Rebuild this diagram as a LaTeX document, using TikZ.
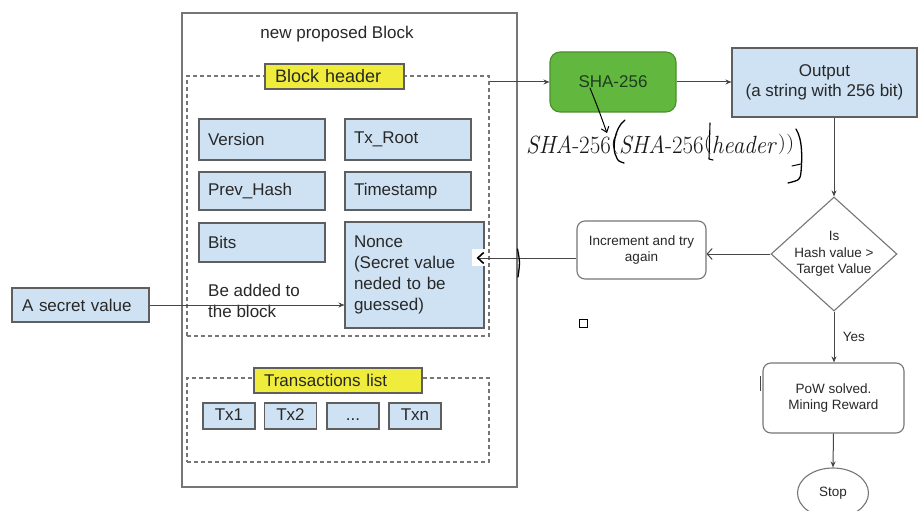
\documentclass[tikz,border=0pt]{standalone}
\usepackage[no-math]{fontspec}
\setmainfont{Liberation Sans}
\usetikzlibrary{shapes.geometric,arrows.meta,calc}
\definecolor{fieldblue}{RGB}{207,226,243}
\definecolor{fieldline}{RGB}{95,95,95}
\definecolor{tagyellow}{RGB}{240,236,60}
\definecolor{shagreen}{RGB}{98,184,62}
\definecolor{shaline}{RGB}{76,142,46}
\definecolor{shatext}{RGB}{30,60,30}
\definecolor{frameline}{RGB}{118,118,118}
\definecolor{flowline}{RGB}{70,70,70}
\definecolor{textgray}{RGB}{40,40,40}
% Latin Modern for the hash formula, with short parentheses
\newcommand\formularm{\fontencoding{OT1}\fontfamily{lmr}\fontseries{m}\fontshape{n}\fontsize{28}{30}\selectfont}
\newcommand\fital[1]{$\mathit{#1}$}
\newcommand\fparen[1]{\raisebox{3.5pt}{\scalebox{1}[0.82]{#1}}}
\begin{document}
\begin{tikzpicture}[x=1pt,y=-1pt,
  txt/.style={font=\fontsize{17}{21}\selectfont, text=textgray},
  small/.style={font=\fontsize{13.5}{16.5}\selectfont, text=textgray},
  field/.style n args={3}{draw=fieldline, fill=fieldblue, line width=1.1pt,
    minimum width=#1, minimum height=#2, text width=#3, inner xsep=9pt,
    inner ysep=0pt, align=left, txt},
  txbox/.style={draw=fieldline, fill=fieldblue, line width=1.1pt,
    minimum width=52pt, minimum height=26pt, inner sep=0pt,
    text height=12.5pt, text depth=3.5pt, txt},
  tag/.style n args={3}{draw=fieldline, fill=tagyellow, line width=1.1pt,
    minimum width=#1, minimum height=#2, text width=#3, inner xsep=10pt,
    inner ysep=0pt, align=left, font=\fontsize{18}{21}\selectfont, text=textgray},
  group/.style 2 args={draw=frameline, dashed, dash pattern=on 4pt off 3pt,
    line width=1.2pt, minimum width=#1, minimum height=#2, inner sep=0pt},
  flowbox/.style 2 args={draw=frameline, rounded corners=8pt, line width=1.1pt,
    fill=white, minimum width=#1, minimum height=#2, inner sep=0pt,
    align=center, small},
  link/.style={draw=flowline, line width=1pt, -{Stealth[length=6pt,width=5pt]}},
  hand/.style={draw=black, line width=1.3pt, line cap=round, line join=round},
]
\useasboundingbox (0,0) rectangle (922,511);
\fill[white] (0,0) rectangle (922,511);

% the proposed block and its title
\node[draw=frameline, line width=1.3pt, minimum width=335pt, minimum height=474pt,
      inner sep=0pt] (block) at (349.5,250) {};
\node[txt] (title) at (337,34) {new proposed Block};

% block header group
\node[group={302pt}{260pt}] (hdr) at (338,206) {};
\node[tag={139pt}{25pt}{119pt}] (hdrtag) at (334.5,76.5) {Block header};
\node[field={126pt}{41pt}{108pt}] (version) at (262,139.5) {Version};
\node[field={126pt}{41pt}{108pt}] (txroot) at (408,139.5) {Tx\_Root};
\node[field={126pt}{38pt}{108pt}] (prev) at (262,191) {Prev\_Hash};
\node[field={126pt}{38pt}{108pt}] (time) at (408,191) {Timestamp};
\node[field={126pt}{39pt}{108pt}] (bits) at (262,242.5) {Bits};
\node[field={139pt}{106pt}{121pt}] (nonce) at (414.5,275)
  {Nonce\\(Secret value\\neded to be\\guessed)};
\node[txt, anchor=west, align=left, inner sep=0pt] (added) at (208,300.5)
  {Be added to\\the block};

% transactions list group
\node[group={302pt}{84pt}] (txg) at (338,420) {};
\node[tag={168pt}{25pt}{148pt}, font=\fontsize{17}{21}\selectfont] (txtag) at (338,380.5)
  {Transactions list};
\node[txbox] (tx1) at (229,416) {Tx1};
\node[txbox] (tx2) at (290.5,416) {Tx2};
\node[txbox] (txdots) at (353,416) {...};
\node[txbox] (txn) at (415,416) {Txn};

% secret value
\node[field={137pt}{34pt}{117pt}, inner xsep=10pt] (secret) at (80.5,305) {A secret value};

% hashing and output
\node[draw=shaline, fill=shagreen, rounded corners=10pt, line width=1.1pt,
      minimum width=126pt, minimum height=60pt, inner sep=0pt, txt, text=shatext]
      (sha) at (613,82) {SHA-256};
\node[draw=fieldline, fill=fieldblue, line width=1.1pt, minimum width=185pt,
      minimum height=69pt, inner sep=0pt, align=center, txt, font=\fontsize{17}{20}\selectfont]
      (out) at (824.5,82.5) {Output\\(a string with 256 bit)};

% decision flow
\node[diamond, draw=frameline, line width=1.1pt, minimum width=126pt,
      minimum height=114pt, inner sep=0pt,
      label={[small, align=center]center:Is\\Hash value >\\Target Value}]
      (dia) at (834,254) {};
\node[flowbox={129pt}{58pt}] (inc) at (641.5,250) {Increment and try\\again};
\node[flowbox={141pt}{70pt}] (pow) at (833.5,398) {PoW solved.\\Mining Reward};
\node[ellipse, draw=frameline, line width=1.1pt, minimum width=71pt,
      minimum height=50pt, inner sep=0pt, small] (stop) at (833,493) {Stop};
\node[draw=black, line width=0.9pt, minimum size=8pt, inner sep=0pt] (mark) at (583,323) {};

% formula
\node[anchor=base west, inner sep=0pt, text=black!90] (formula) at (526,153)
  {\resizebox{268pt}{\height}{\formularm
   \fital{SHA}-256\fparen{(}\fital{SHA}-256\fparen{(}\fital{header}\fparen{)}\fparen{)}}};

% connectors
\draw[link] (sha.west -| hdr.east) -- (sha.west);
\draw[link] (sha.east) -- (sha.east -| out.west);
\draw[link] (dia.north |- out.south) -- (dia.north);
\draw[draw=flowline, line width=1pt, -{Straight Barb[length=5pt,width=11pt]}]
  (dia.west) -- (dia.west -| inc.east);
\draw[link] (secret.east) -- (secret.east -| nonce.west);
\draw[link] (dia.south) -- node[anchor=west, small, xshift=5pt] {Yes} (dia.south |- pow.north);
\draw[link] (pow.south) -- (stop.north);

% return path into the nonce
\fill[white] (472,249) rectangle (486,266);
\coordinate (ret) at ([yshift=-8pt]inc.west);
\draw[draw=flowline, line width=1pt,
      -{Straight Barb[length=6pt,width=11pt,color=black,line width=1.6pt]}]
  (ret) -- ($(ret -| nonce.east)+(-8,0)$);

% pen marks
\draw[hand] (517.5,249) .. controls (520,262) .. (518,277);
\draw[hand, line width=1pt, -{Straight Barb[length=5pt,width=8pt]}]
  ([xshift=-23pt,yshift=-6pt]sha.center) .. controls (598,108) .. (607,133);
\draw[hand] (625,120) .. controls (614,128) and (612,150) .. (616,156)
  .. controls (618,161) .. (624,163);
\draw[hand, line width=1.1pt] (710,123) -- (709,159) -- (713,160);
\draw[hand] (796,129) .. controls (803,140) and (802,160) .. (801,172)
  .. controls (800,180) .. (788,183);
\draw[hand, line width=1pt] (792,166) -- (801,164);
\draw[draw=flowline, line width=1pt] (pow.west) ++(-2,-22) -- ++(0,15);
\end{tikzpicture}
\end{document}
